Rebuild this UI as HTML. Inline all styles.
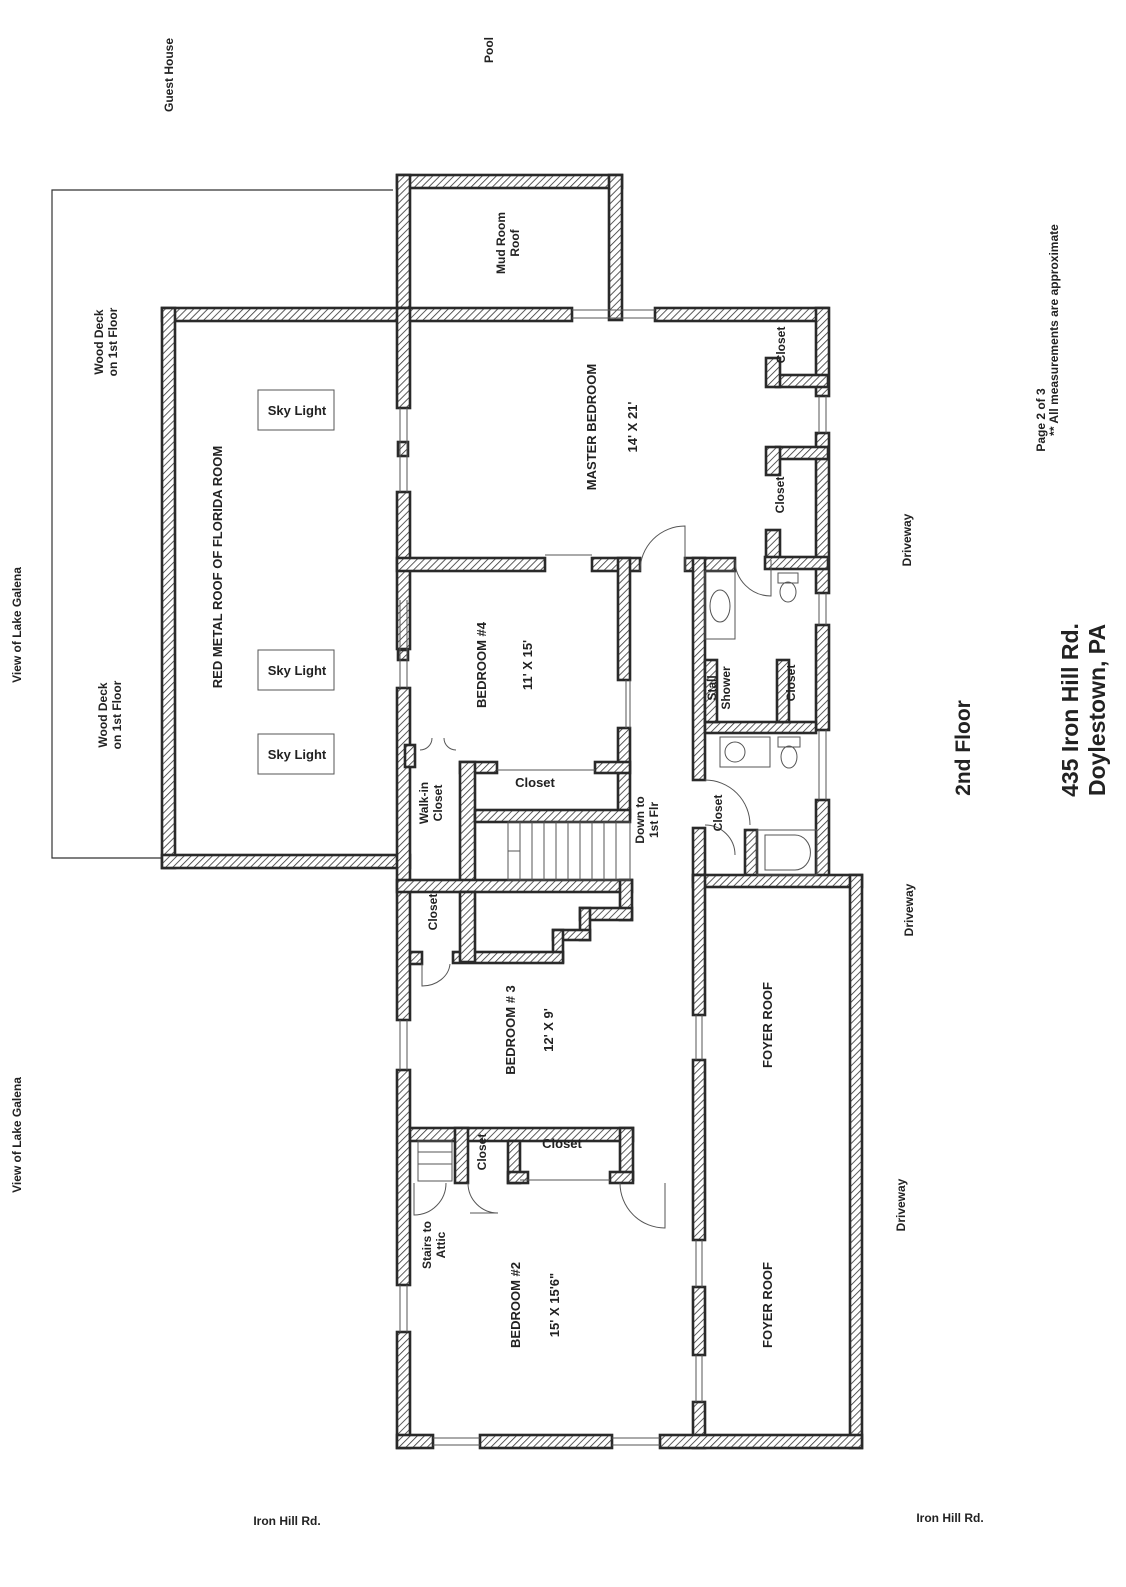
<!DOCTYPE html>
<html><head><meta charset="utf-8"><style>
html,body{margin:0;padding:0;background:#fff;}
svg{display:block}
text{font-family:"Liberation Sans",Arial,sans-serif;font-weight:bold;fill:#222;}
</style></head><body>
<svg width="1126" height="1587" viewBox="0 0 1126 1587" xmlns="http://www.w3.org/2000/svg">
<defs>
<pattern id="h" width="5" height="5" patternUnits="userSpaceOnUse" patternTransform="rotate(45)">
<rect width="5" height="5" fill="#fff"/><line x1="0" y1="0" x2="0" y2="5" stroke="#333" stroke-width="1.6"/>
</pattern>
</defs>
<g fill="none" stroke="#333" stroke-width="1.2">
<polyline points="393,190 52,190 52,858 162,858"/>
</g>
<g fill="url(#h)" stroke="#2a2a2a" stroke-width="2.6">
<!-- mud room -->
<rect x="397" y="175" width="225" height="13"/>
<rect x="397" y="175" width="13" height="145"/>
<rect x="609" y="175" width="13" height="145"/>
<!-- top walls -->
<rect x="162" y="308" width="410" height="13"/>
<rect x="655" y="308" width="173" height="13"/>
<!-- florida -->
<rect x="162" y="308" width="13" height="560"/>
<rect x="162" y="855" width="248" height="13"/>
<!-- left house wall -->
<rect x="397" y="308" width="13" height="100"/>
<rect x="397" y="492" width="13" height="157"/>
<rect x="397" y="688" width="13" height="332"/>
<rect x="397" y="1070" width="13" height="215"/>
<rect x="397" y="1332" width="13" height="116"/>
<rect x="398" y="442" width="10" height="14"/>
<rect x="398" y="650" width="10" height="10"/>
<!-- right wall -->
<rect x="816" y="308" width="13" height="88"/>
<rect x="816" y="433" width="13" height="160"/>
<rect x="816" y="625" width="13" height="105"/>
<rect x="816" y="800" width="13" height="80"/>
<!-- master closets -->
<rect x="776" y="375" width="52" height="12"/>
<rect x="766" y="358" width="14" height="29"/>
<rect x="776" y="447" width="52" height="12"/>
<rect x="766" y="447" width="14" height="28"/>
<rect x="766" y="530" width="14" height="38"/>
<rect x="765" y="557" width="63" height="12"/>
<!-- master / bed4 wall -->
<rect x="397" y="558" width="148" height="13"/>
<rect x="592" y="558" width="48" height="13"/>
<rect x="618" y="558" width="12" height="122"/>
<rect x="618" y="728" width="12" height="90"/>
<!-- closet bed4 -->
<rect x="460" y="762" width="37" height="11"/>
<rect x="595" y="762" width="35" height="11"/>
<rect x="460" y="762" width="15" height="120"/>
<rect x="475" y="810" width="155" height="12"/>
<!-- walk-in -->
<rect x="405" y="745" width="10" height="22"/>
<rect x="397" y="880" width="235" height="12"/>
<!-- stair profile -->
<rect x="620" y="880" width="12" height="40"/>
<rect x="580" y="908" width="52" height="12"/>
<rect x="580" y="908" width="10" height="32"/>
<rect x="553" y="930" width="37" height="10"/>
<rect x="553" y="930" width="10" height="32"/>
<rect x="453" y="952" width="110" height="11"/>
<rect x="460" y="892" width="15" height="70"/>
<rect x="410" y="952" width="12" height="12"/>
<!-- bath -->
<rect x="685" y="558" width="50" height="13"/>
<rect x="693" y="558" width="12" height="222"/>
<rect x="705" y="722" width="111" height="11"/>
<rect x="777" y="660" width="12" height="62"/>
<rect x="705" y="660" width="12" height="62"/>
<rect x="693" y="828" width="12" height="52"/>
<rect x="745" y="830" width="12" height="50"/>
<!-- foyer -->
<rect x="693" y="875" width="169" height="12"/>
<rect x="693" y="875" width="12" height="140"/>
<rect x="693" y="1060" width="12" height="180"/>
<rect x="693" y="1287" width="12" height="68"/>
<rect x="693" y="1402" width="12" height="46"/>
<rect x="850" y="875" width="12" height="573"/>
<!-- bottom wall -->
<rect x="397" y="1435" width="36" height="13"/>
<rect x="480" y="1435" width="132" height="13"/>
<rect x="660" y="1435" width="202" height="13"/>
<!-- bed3/bed2 -->
<rect x="410" y="1128" width="223" height="13"/>
<rect x="620" y="1128" width="13" height="52"/>
<rect x="455" y="1128" width="13" height="55"/>
<rect x="508" y="1141" width="12" height="42"/>
<rect x="508" y="1172" width="20" height="11"/>
<rect x="610" y="1172" width="23" height="11"/>
</g>
<!-- windows -->
<g stroke="#555" stroke-width="1" fill="none">
<line x1="572" y1="310" x2="655" y2="310"/><line x1="572" y1="318" x2="655" y2="318"/>
<line x1="400" y1="408" x2="400" y2="492"/><line x1="407" y1="408" x2="407" y2="492"/>
<line x1="400" y1="600" x2="400" y2="688"/><line x1="407" y1="600" x2="407" y2="688"/>
<line x1="400" y1="1020" x2="400" y2="1070"/><line x1="407" y1="1020" x2="407" y2="1070"/>
<line x1="400" y1="1285" x2="400" y2="1332"/><line x1="407" y1="1285" x2="407" y2="1332"/>
<line x1="819" y1="396" x2="819" y2="433"/><line x1="826" y1="396" x2="826" y2="433"/>
<line x1="819" y1="593" x2="819" y2="625"/><line x1="826" y1="593" x2="826" y2="625"/>
<line x1="819" y1="730" x2="819" y2="800"/><line x1="826" y1="730" x2="826" y2="800"/>
<line x1="696" y1="1015" x2="696" y2="1060"/><line x1="702" y1="1015" x2="702" y2="1060"/>
<line x1="696" y1="1240" x2="696" y2="1287"/><line x1="702" y1="1240" x2="702" y2="1287"/>
<line x1="696" y1="1355" x2="696" y2="1402"/><line x1="702" y1="1355" x2="702" y2="1402"/>
<line x1="433" y1="1438" x2="480" y2="1438"/><line x1="433" y1="1445" x2="480" y2="1445"/>
<line x1="612" y1="1438" x2="660" y2="1438"/><line x1="612" y1="1445" x2="660" y2="1445"/>
<line x1="545" y1="555" x2="592" y2="555"/>
<line x1="630" y1="680" x2="630" y2="728"/><line x1="626" y1="680" x2="626" y2="728"/>
<line x1="497" y1="770" x2="595" y2="770"/>
<line x1="520" y1="1180" x2="610" y2="1180"/>
<!-- doors -->
<path d="M640,571 A45,45 0 0 1 685,526 L685,571"/>
<path d="M735,560 A36,36 0 0 0 771,596 L771,560"/>
<path d="M705,780 A45,45 0 0 1 750,825"/>
<path d="M705,825 A30,30 0 0 1 735,855"/>
<path d="M620,1183 A45,45 0 0 0 665,1228 L665,1183"/>
<path d="M468,1183 A30,30 0 0 0 498,1213 L470,1213"/>
<path d="M414,1183 L414,1215 A32,32 0 0 0 446,1183"/>
<path d="M422,964 L422,986 A28,24 0 0 0 450,964"/>
<path d="M420,750 A12,12 0 0 0 432,738 M456,750 A12,12 0 0 1 444,738"/>
<!-- stair treads -->
<rect x="508" y="822" width="122" height="58"/>
<line x1="520" y1="822" x2="520" y2="880"/><line x1="532" y1="822" x2="532" y2="880"/><line x1="544" y1="822" x2="544" y2="880"/><line x1="556" y1="822" x2="556" y2="880"/><line x1="568" y1="822" x2="568" y2="880"/><line x1="580" y1="822" x2="580" y2="880"/><line x1="592" y1="822" x2="592" y2="880"/><line x1="604" y1="822" x2="604" y2="880"/><line x1="616" y1="822" x2="616" y2="880"/>
<line x1="508" y1="851" x2="520" y2="851"/>
<rect x="418" y="1141" width="34" height="40"/>
<line x1="418" y1="1152" x2="452" y2="1152"/><line x1="418" y1="1164" x2="452" y2="1164"/>
<!-- fixtures -->
<rect x="705" y="571" width="30" height="68"/>
<ellipse cx="720" cy="606" rx="10" ry="16"/>
<rect x="778" y="573" width="20" height="10"/><ellipse cx="788" cy="592" rx="8" ry="10"/>
<rect x="720" y="737" width="50" height="30"/><ellipse cx="735" cy="752" rx="10" ry="10"/>
<rect x="778" y="737" width="22" height="10"/><ellipse cx="789" cy="757" rx="8" ry="11"/>
<rect x="757" y="830" width="60" height="45"/><path d="M765,870 L765,835 L795,835 A15,17 0 0 1 795,870 Z"/>
<rect x="258" y="390" width="76" height="40"/>
<rect x="258" y="650" width="76" height="40"/>
<rect x="258" y="734" width="76" height="40"/>
</g>
<g font-size="13">
<text x="297" y="415" text-anchor="middle">Sky Light</text>
<text x="297" y="675" text-anchor="middle">Sky Light</text>
<text x="297" y="759" text-anchor="middle">Sky Light</text>
<text x="535" y="787" text-anchor="middle">Closet</text>
<text x="562" y="1148" text-anchor="middle">Closet</text>
</g>
<g font-size="12">
<text transform="translate(173,75) rotate(-90)" text-anchor="middle">Guest House</text>
<text transform="translate(493,50) rotate(-90)" text-anchor="middle">Pool</text>
<text transform="translate(21,625) rotate(-90)" text-anchor="middle">View of Lake Galena</text>
<text transform="translate(21,1135) rotate(-90)" text-anchor="middle">View of Lake Galena</text>
<text transform="translate(103,342) rotate(-90)" text-anchor="middle">Wood Deck</text>
<text transform="translate(117,342) rotate(-90)" text-anchor="middle">on 1st Floor</text>
<text transform="translate(107,715) rotate(-90)" text-anchor="middle">Wood Deck</text>
<text transform="translate(121,715) rotate(-90)" text-anchor="middle">on 1st Floor</text>
<text transform="translate(505,243) rotate(-90)" text-anchor="middle">Mud Room</text>
<text transform="translate(519,243) rotate(-90)" text-anchor="middle">Roof</text>
<text transform="translate(911,540) rotate(-90)" text-anchor="middle">Driveway</text>
<text transform="translate(913,910) rotate(-90)" text-anchor="middle">Driveway</text>
<text transform="translate(905,1205) rotate(-90)" text-anchor="middle">Driveway</text>
<text transform="translate(1045,420) rotate(-90)" text-anchor="middle">Page 2 of 3</text>
<text transform="translate(1058,330) rotate(-90)" text-anchor="middle">** All measurements are approximate</text>
<text transform="translate(785,345) rotate(-90)" text-anchor="middle">Closet</text>
<text transform="translate(784,495) rotate(-90)" text-anchor="middle">Closet</text>
<text transform="translate(795,683) rotate(-90)" text-anchor="middle">Closet</text>
<text transform="translate(722,813) rotate(-90)" text-anchor="middle">Closet</text>
<text transform="translate(437,912) rotate(-90)" text-anchor="middle">Closet</text>
<text transform="translate(486,1152) rotate(-90)" text-anchor="middle">Closet</text>
<text transform="translate(716,688) rotate(-90)" text-anchor="middle">Stall</text>
<text transform="translate(730,688) rotate(-90)" text-anchor="middle">Shower</text>
<text transform="translate(428,803) rotate(-90)" text-anchor="middle">Walk-in</text>
<text transform="translate(442,803) rotate(-90)" text-anchor="middle">Closet</text>
<text transform="translate(644,820) rotate(-90)" text-anchor="middle">Down to</text>
<text transform="translate(658,820) rotate(-90)" text-anchor="middle">1st Flr</text>
<text transform="translate(431,1245) rotate(-90)" text-anchor="middle">Stairs to</text>
<text transform="translate(445,1245) rotate(-90)" text-anchor="middle">Attic</text>
<text transform="translate(287,1525)" text-anchor="middle">Iron Hill Rd.</text>
<text transform="translate(950,1522)" text-anchor="middle">Iron Hill Rd.</text>
</g>
<g font-size="13">
<text transform="translate(222,567) rotate(-90)" text-anchor="middle">RED METAL ROOF OF FLORIDA ROOM</text>
<text transform="translate(596,427) rotate(-90)" text-anchor="middle">MASTER BEDROOM</text>
<text transform="translate(637,427) rotate(-90)" text-anchor="middle">14' X 21'</text>
<text transform="translate(486,665) rotate(-90)" text-anchor="middle">BEDROOM #4</text>
<text transform="translate(532,665) rotate(-90)" text-anchor="middle">11' X 15'</text>
<text transform="translate(515,1030) rotate(-90)" text-anchor="middle">BEDROOM # 3</text>
<text transform="translate(553,1030) rotate(-90)" text-anchor="middle">12' X 9'</text>
<text transform="translate(520,1305) rotate(-90)" text-anchor="middle">BEDROOM #2</text>
<text transform="translate(559,1305) rotate(-90)" text-anchor="middle">15' X 15'6"</text>
<text transform="translate(772,1025) rotate(-90)" text-anchor="middle">FOYER ROOF</text>
<text transform="translate(772,1305) rotate(-90)" text-anchor="middle">FOYER ROOF</text>
</g>
<text transform="translate(970,748) rotate(-90)" text-anchor="middle" font-size="21">2nd Floor</text>
<text transform="translate(1078,710) rotate(-90)" text-anchor="middle" font-size="23">435 Iron Hill Rd.</text>
<text transform="translate(1105,710) rotate(-90)" text-anchor="middle" font-size="23">Doylestown, PA</text>
</svg>
</body></html>
